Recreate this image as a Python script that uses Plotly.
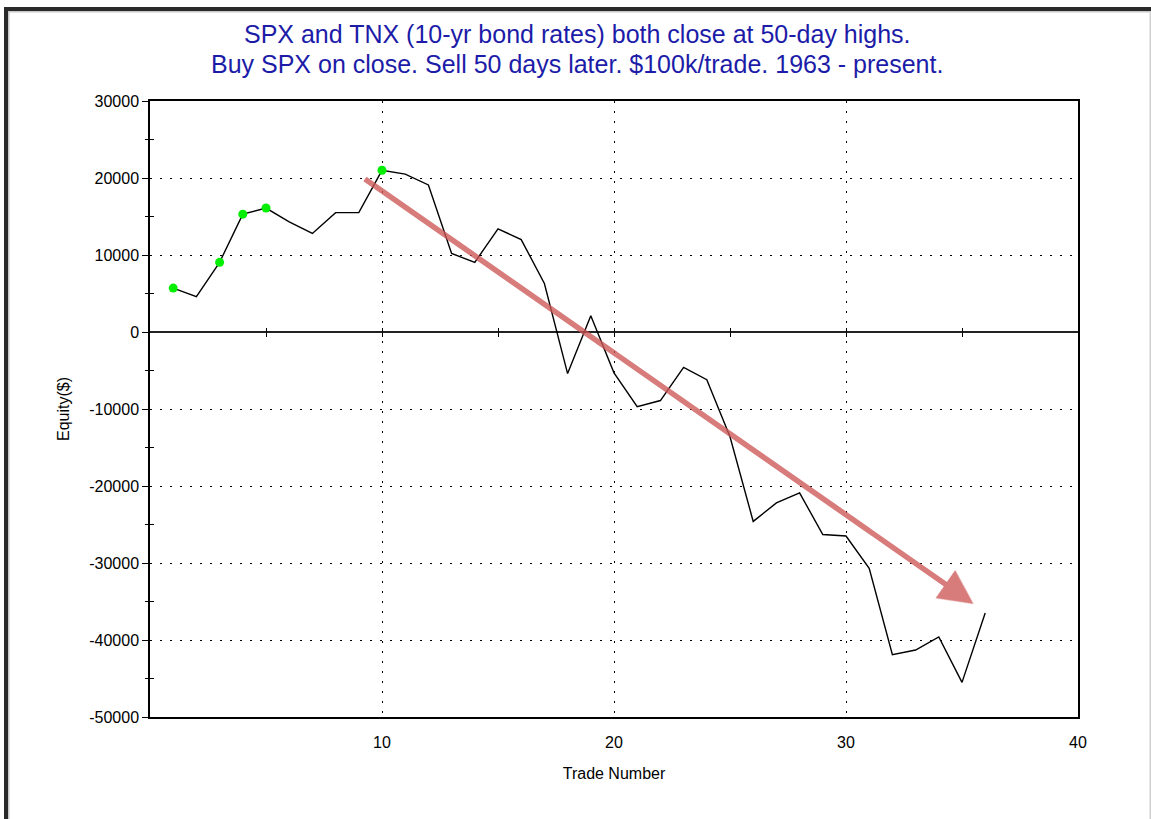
import plotly.graph_objects as go

# ---- data ----
trade_number = list(range(1, 37))
equity = [5700, 4600, 9050, 15300, 16100, 14300, 12800, 15500, 15500, 21000,
          20500, 19100, 10200, 9050, 13400, 12000, 6300, -5400, 2100, -5300,
          -9700, -8900, -4600, -6200, -13600, -24600, -22200, -20900, -26300, -26500,
          -30700, -41900, -41300, -39600, -45500, -36500]
x_ticks = [10, 20, 30, 40]
x_minor_ticks = [5, 10, 15, 20, 25, 30, 35]
y_ticks = [30000, 20000, 10000, 0, -10000, -20000, -30000, -40000, -50000]
y_tick_text = ["30000", "20000", "10000", "0", "-10000", "-20000", "-30000", "-40000", "-50000"]
y_minor_ticks = [25000, 15000, 5000, -5000, -15000, -25000, -35000, -45000]
title_lines = ["SPX and TNX (10-yr bond rates) both close at 50-day highs.",
               "Buy SPX on close. Sell 50 days later. $100k/trade. 1963 - present."]
arrow_start = (9.2, 20000)
arrow_end = (35.5, -35300)

# new equity highs
hx, hy = [], []
best = None
for n, v in zip(trade_number, equity):
    if best is None or v > best:
        best = v
        hx.append(n)
        hy.append(v)

W, H = 1151, 819
L, R, T, B = 150, 1078, 101, 717

def px(x):
    return (x - L) / (R - L)

def py(y):
    return (B - y) / (B - T)

fig = go.Figure()
fig.add_trace(go.Scatter(x=trade_number, y=equity, mode="lines",
                         line=dict(color="black", width=1.4), showlegend=False,
                         hoverinfo="skip"))
fig.add_trace(go.Scatter(x=hx, y=hy, mode="markers",
                         marker=dict(color="#00ee00", size=9, line=dict(width=0)),
                         showlegend=False))

font_family = "Liberation Sans, Arial, sans-serif"
grid_dash = "2px,8px"
zero_pos = (0 - (-50000)) / (30000 - (-50000))

fig.update_layout(
    width=W, height=H,
    margin=dict(l=L, r=W - R, t=T, b=H - B, pad=0),
    paper_bgcolor="white", plot_bgcolor="white",
    font=dict(family=font_family, color="black"),
    xaxis=dict(range=[0, 40], tickvals=x_ticks, ticks="outside", ticklen=0,
               ticklabelstandoff=10,
               showline=True, linecolor="black", linewidth=1.5, mirror=True,
               showgrid=True, gridcolor="black", gridwidth=1, griddash=grid_dash,
               zeroline=False, tickfont=dict(size=16, color="black"),
               title=dict(text="Trade Number", font=dict(size=16), standoff=18)),
    yaxis=dict(range=[-50000, 30000], tickvals=y_ticks, ticktext=y_tick_text,
               ticks="outside", ticklen=6, tickcolor="black", tickwidth=1.2,
               showline=True, linecolor="black", linewidth=1.5, mirror=True,
               showgrid=True, gridcolor="black", gridwidth=1, griddash=grid_dash,
               zeroline=True, zerolinecolor="#222222", zerolinewidth=2,
               tickfont=dict(size=16, color="black"),
               title=dict(text="Equity($)", font=dict(size=16), standoff=16)),
    yaxis2=dict(range=[-50000, 30000], overlaying="y", anchor="x", side="left",
                tickvals=y_minor_ticks, ticks="outside", ticklen=4, tickcolor="black",
                tickwidth=1.2, showticklabels=False, showline=False, showgrid=False,
                zeroline=False),
    yaxis3=dict(range=[-50000, 30000], overlaying="y", anchor="x", side="left",
                tickvals=y_minor_ticks, ticks="inside", ticklen=4, tickcolor="black",
                tickwidth=1.2, showticklabels=False, showline=False, showgrid=False,
                zeroline=False),
    xaxis2=dict(range=[0, 40], overlaying="x", anchor="free", position=zero_pos,
                tickvals=x_minor_ticks, ticks="outside", ticklen=4,
                tickcolor="black", tickwidth=1.3, showticklabels=False,
                showline=False, showgrid=False, zeroline=False, side="bottom"),
    xaxis3=dict(range=[0, 40], overlaying="x", anchor="free", position=zero_pos,
                tickvals=x_minor_ticks, ticks="outside", ticklen=4,
                tickcolor="black", tickwidth=1.3, showticklabels=False,
                showline=False, showgrid=False, zeroline=False, side="top"),
)
fig.add_trace(go.Scatter(x=[None], y=[None], xaxis="x2", showlegend=False))
fig.add_trace(go.Scatter(x=[None], y=[None], xaxis="x3", showlegend=False))
fig.add_trace(go.Scatter(x=[None], y=[None], yaxis="y2", showlegend=False))
fig.add_trace(go.Scatter(x=[None], y=[None], yaxis="y3", showlegend=False))

fig.add_annotation(
    x=arrow_end[0], y=arrow_end[1], ax=arrow_start[0], ay=arrow_start[1],
    xref="x", yref="y", axref="x", ayref="y", text="",
    showarrow=True, arrowhead=2, arrowsize=1.25, arrowwidth=5.5,
    arrowcolor="rgba(205,85,85,0.78)")

fig.add_annotation(
    x=px(577), y=py(34), xref="paper", yref="paper", xanchor="center", yanchor="middle",
    text=title_lines[0], showarrow=False,
    font=dict(size=25, color="#1c1ca8", family=font_family))
fig.add_annotation(
    x=px(577), y=py(64), xref="paper", yref="paper", xanchor="center", yanchor="middle",
    text=title_lines[1], showarrow=False,
    font=dict(size=25, color="#1c1ca8", family=font_family))

# page frame decoration
fig.add_shape(type="rect", xref="paper", yref="paper",
              x0=px(4), x1=px(W), y0=py(11), y1=py(7),
              fillcolor="#2a2a2a", line=dict(width=0), layer="above")
fig.add_shape(type="rect", xref="paper", yref="paper",
              x0=px(4), x1=px(8), y0=py(H), y1=py(7),
              fillcolor="#2a2a2a", line=dict(width=0), layer="above")
fig.add_shape(type="rect", xref="paper", yref="paper",
              x0=px(8), x1=px(W), y0=py(12.5), y1=py(11),
              fillcolor="#c8c8c8", line=dict(width=0), layer="above")
fig.add_shape(type="rect", xref="paper", yref="paper",
              x0=px(8), x1=px(9.5), y0=py(H), y1=py(11),
              fillcolor="#c8c8c8", line=dict(width=0), layer="above")
fig.add_shape(type="rect", xref="paper", yref="paper",
              x0=px(1149.5), x1=px(1151), y0=py(H), y1=py(12.5),
              fillcolor="#d0d0d0", line=dict(width=0), layer="above")

fig.write_html("out.html", config={"displayModeBar": False},
               post_script="document.body.style.margin='0';document.body.style.overflow='hidden';")
